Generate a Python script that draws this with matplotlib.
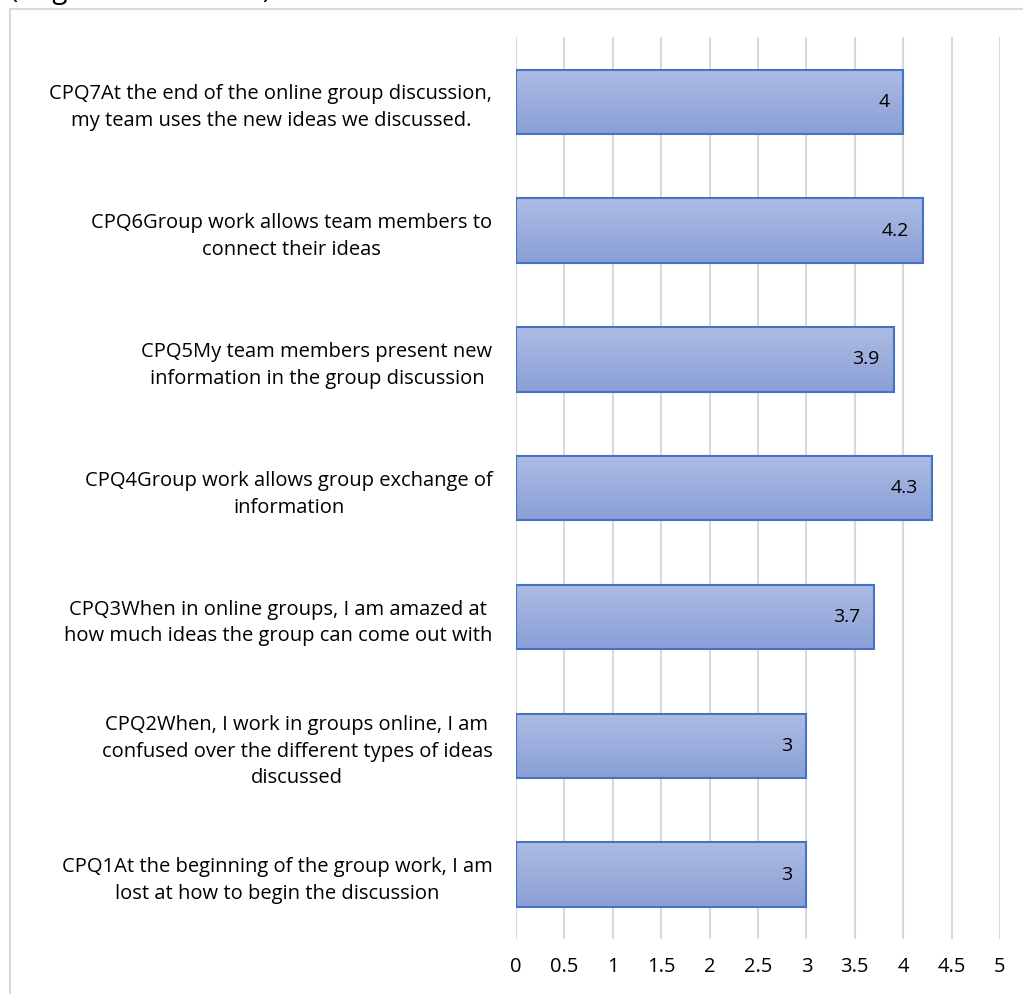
import numpy as np
import matplotlib.pyplot as plt
from matplotlib.lines import Line2D
from matplotlib.colors import LinearSegmentedColormap

plt.rcParams['font.family'] = ['Open Sans', 'DejaVu Sans']

labels = [
    "CPQ1At the beginning of the group work, I am\nlost at how to begin the discussion",
    "CPQ2When, I work in groups online, I am\nconfused over the different types of ideas\ndiscussed",
    "CPQ3When in online groups, I am amazed at\nhow much ideas the group can come out with",
    "CPQ4Group work allows group exchange of\ninformation",
    "CPQ5My team members present new\ninformation in the group discussion",
    "CPQ6Group work allows team members to\nconnect their ideas",
    "CPQ7At the end of the online group discussion,\nmy team uses the new ideas we discussed.",
]
values = [3, 3, 3.7, 4.3, 3.9, 4.2, 4]
value_text = ["3", "3", "3.7", "4.3", "3.9", "4.2", "4"]
xticks = [0, 0.5, 1, 1.5, 2, 2.5, 3, 3.5, 4, 4.5, 5]
xtick_labels = ["0", "0.5", "1", "1.5", "2", "2.5", "3", "3.5", "4", "4.5", "5"]

fig = plt.figure(figsize=(10.23, 9.94), dpi=100)
ax = fig.add_axes([0.5044, 0.0553, 0.4731, 0.907])

grad = LinearSegmentedColormap.from_list("g", ["#8A9FD6", "#ADBCE3"])
ypos = np.arange(len(values))
bars = ax.barh(ypos, values, height=0.5, color="none", edgecolor="#4472C4", linewidth=1.5, zorder=3)
for b in bars:
    x0, y0 = b.get_x(), b.get_y()
    w, h = b.get_width(), b.get_height()
    ax.imshow(np.linspace(0, 1, 64).reshape(-1, 1), cmap=grad, aspect="auto",
              extent=(x0, x0 + w, y0, y0 + h), origin="lower", zorder=2)

for y, v, t in zip(ypos, values, value_text):
    ax.annotate(t, (v, y), xytext=(-10, 0), textcoords="offset points",
                ha="right", va="center", fontsize=14, color="#000000", zorder=4)

ax.set_xlim(0, 5)
ax.set_ylim(-0.5, len(values) - 0.5)
ax.set_xticks(xticks)
ax.set_xticklabels(xtick_labels, fontsize=14.5)
ax.set_yticks(ypos)
ax.set_yticklabels(labels, fontsize=14.5, multialignment="center", linespacing=1.45)
ax.tick_params(axis="both", length=0)
ax.tick_params(axis="y", pad=17)
ax.tick_params(axis="x", pad=13)
ax.grid(axis="x", color="#D9D9D9", linewidth=1.5, zorder=0)
ax.set_axisbelow(True)
for s in ax.spines.values():
    s.set_visible(False)

# chart frame (cut off by image edge)
fig.add_artist(Line2D([10 / 1023, 10 / 1023], [0, 1 - 9 / 994], color="#D9D9D9", linewidth=1.5))
fig.add_artist(Line2D([10 / 1023, 1], [1 - 9 / 994, 1 - 9 / 994], color="#D9D9D9", linewidth=1.5))

# title sits above the crop, only its lower edge is visible
fig.text(10 / 1023, 1 + 2 / 994, "(Cognitive Presence)", fontsize=20, ha="left", va="baseline")

fig.savefig("out.png", dpi=100)
